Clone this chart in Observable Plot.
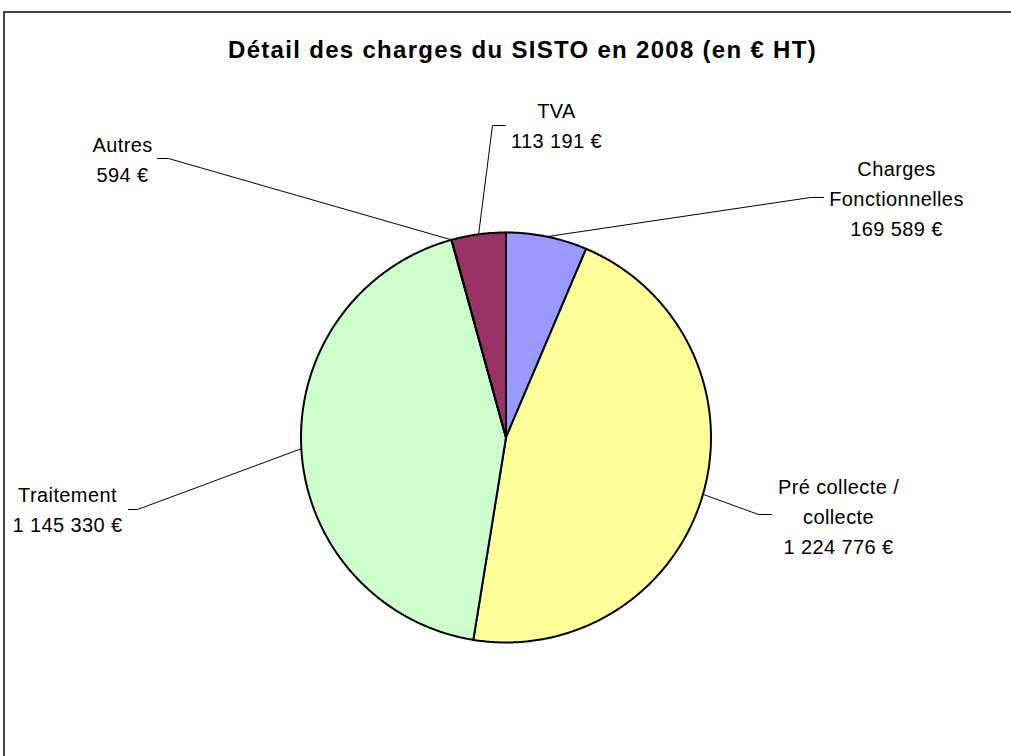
<!DOCTYPE html>
<html>
<head>
<meta charset="utf-8">
<script src="https://cdn.jsdelivr.net/npm/d3@7"></script>
<script src="https://cdn.jsdelivr.net/npm/@observablehq/plot@0.6"></script>
<style>
  html, body { margin: 0; padding: 0; background: #fff; overflow: hidden; width: 1011px; height: 756px; }
  #wrap { position: relative; width: 1011px; height: 756px; }
  #frame { position: absolute; left: 3px; top: 11px; width: 1100px; height: 900px; border: 2px solid #444; pointer-events: none; z-index: 5; }
  #title { height: 80px; position: relative; }
  #title span { position: absolute; left: 0; width: 1045px; top: 38px; text-align: center; font: bold 24px "Liberation Sans", Arial, sans-serif; line-height: 24px; letter-spacing: 1.3px; color: #000; }
  #chart svg { display: block; background: transparent; }
  #chart svg text { letter-spacing: 0.4px; }
</style>
</head>
<body>
<div id="wrap">
  <div id="frame"></div>
  <div id="title"><span>Détail des charges du SISTO en 2008 (en € HT)</span></div>
  <div id="chart"></div>
</div>
<script>
// ---- data ----
const categories = ["Charges Fonctionnelles", "Pré collecte / collecte", "Traitement", "Autres", "TVA"];
const labelTexts = ["Charges\nFonctionnelles", "Pré collecte /\ncollecte", "Traitement", "Autres", "TVA"];
const values = [169589, 1224776, 1145330, 594, 113191];
const colors = ["#9999FF", "#FFFF99", "#CCFFCC", "#660066", "#993366"];

// ---- layout of data labels (pixels relative to pie centre; y downward) ----
const labelCenterX = [390.5, 332.5, -438.5, -383.5, 50.5];
const labelCenterY = [-241, 77, 70, -280, -314];
const leaderBendX  = [304.5, 252.5, -368.5, -337.5, -13.5];
const leaderEndX   = [317.5, 265.5, -377.5, -348.5, -0.5];
const leaderY      = [-240, 77, 72, -279, -312];

const R = 205;            // pie radius in px
const W = 1011, H = 676;  // svg size
const CX = 505.5, CY = 357; // pie centre in svg px

const fr = d3.formatLocale({decimal: ",", thousands: " ", grouping: [3], currency: ["", " €"]});
const fmt = fr.format("$,.0f");

const arcs = d3.pie().sort(null).value(d => d)(values);

// slice polygons in unit-circle coordinates (y up)
const slicePts = [];
arcs.forEach((a, i) => {
  const name = categories[i];
  slicePts.push({name, x: 0, y: 0});
  const n = Math.max(1, Math.ceil((a.endAngle - a.startAngle) / (Math.PI / 360)));
  for (let k = 0; k <= n; k++) {
    const t = a.startAngle + (a.endAngle - a.startAngle) * k / n;
    slicePts.push({name, x: Math.sin(t), y: Math.cos(t)});
  }
});

// leader lines
const leaderPts = [];
arcs.forEach((a, i) => {
  const mid = (a.startAngle + a.endAngle) / 2;
  const name = categories[i];
  leaderPts.push({name, x: Math.sin(mid), y: Math.cos(mid)});
  leaderPts.push({name, x: leaderBendX[i] / R, y: -leaderY[i] / R});
  leaderPts.push({name, x: leaderEndX[i] / R, y: -leaderY[i] / R});
});

const labels = categories.map((c, i) => ({
  text: labelTexts[i] + "\n" + fmt(values[i]),
  x: labelCenterX[i] / R,
  y: -labelCenterY[i] / R
}));

const chart = Plot.plot({
  width: W,
  height: H,
  margin: 0,
  style: {background: "transparent", fontFamily: "'Liberation Sans', Arial, sans-serif"},
  x: {domain: [-CX / R, (W - CX) / R], axis: null},
  y: {domain: [-(H - CY) / R, CY / R], axis: null},
  color: {domain: categories, range: colors},
  marks: [
    Plot.line(leaderPts, {x: "x", y: "y", z: "name", stroke: "#000", strokeWidth: 1}),
    Plot.line(slicePts, {x: "x", y: "y", z: "name", fill: "name", stroke: "#000", strokeWidth: 2, strokeLinejoin: "round", curve: "linear-closed"}),
    Plot.text(labels, {x: "x", y: "y", text: "text", fontSize: 20, lineHeight: 30 / 20, fill: "#000", textAnchor: "middle"})
  ]
});
document.getElementById("chart").appendChild(chart);
</script>
</body>
</html>
